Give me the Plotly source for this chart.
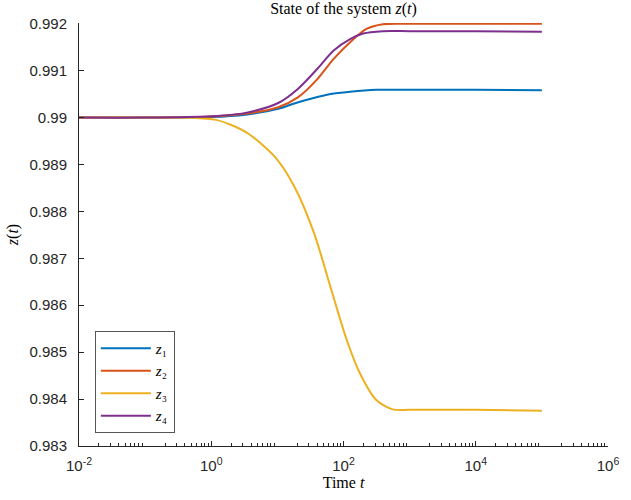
import plotly.graph_objects as go

# time samples (log scale) and the state trajectories
t1 = [0.01, 0.1, 1, 3.3, 10.3, 18, 32, 63.5, 126, 313, 1000, 1e4, 1e5]
z1 = [0.99, 0.99, 0.99001, 0.99006, 0.990185, 0.9903, 0.9904, 0.9905, 0.99055,
      0.99059, 0.99059, 0.99059, 0.99058]

t2 = [0.01, 0.1, 1, 3.3, 10.3, 20.4, 40.3, 71, 141, 222, 394, 1000, 1e4, 1e5]
z2 = [0.99, 0.99, 0.99002, 0.99008, 0.99022, 0.99043, 0.99082, 0.99125, 0.99167,
      0.99189, 0.99199, 0.992, 0.992, 0.992]

t3 = [0.01, 0.1, 0.5, 1.18, 2.1, 3.7, 9.2, 18.2, 36, 63.5, 112, 177, 313, 553,
      1000, 1e4, 1e5]
z3 = [0.99, 0.99, 0.989995, 0.98995, 0.98983, 0.98965, 0.98916, 0.98852, 0.98753,
      0.98639, 0.98526, 0.98455, 0.98398, 0.98378, 0.98377, 0.98377, 0.98375]

t4 = [0.01, 0.1, 1, 3.3, 10.3, 20.4, 40.3, 71, 126, 198, 394, 1000, 1e4, 1e5]
z4 = [0.99, 0.99, 0.99003, 0.9901, 0.99031, 0.99061, 0.99104, 0.99143, 0.99167,
      0.99179, 0.99184, 0.99184, 0.99184, 0.99183]

names = ["z₁", "z₂", "z₃", "z₄"]
colors = ["#0072BD", "#D95319", "#EDB120", "#7E2F8E"]

x_ticks = [1e-2, 1, 1e2, 1e4, 1e6]
x_labels = ["10<sup>-2</sup>", "10<sup>0</sup>", "10<sup>2</sup>", "10<sup>4</sup>", "10<sup>6</sup>"]
y_ticks = [0.983, 0.984, 0.985, 0.986, 0.987, 0.988, 0.989, 0.99, 0.991, 0.992]
y_labels = ["0.983", "0.984", "0.985", "0.986", "0.987", "0.988", "0.989", "0.99", "0.991", "0.992"]

SERIF = "Liberation Serif, DejaVu Serif, serif"
SANS = "Liberation Sans, Arial, sans-serif"
AXIS = "#262626"

fig = go.Figure()
for name, ts, vals, col in zip(names, [t1, t2, t3, t4], [z1, z2, z3, z4], colors):
    fig.add_trace(go.Scatter(
        x=ts, y=vals, mode="lines", name="<i>" + name[0] + "</i>" + name[1:],
        line={"color": col, "width": 2, "shape": "spline", "smoothing": 0.8},
    ))

minor_vals = [m * 10 ** e for e in range(-2, 6) for m in range(2, 10)]

fig.update_layout(
    width=631, height=500,
    margin={"l": 77, "r": 15, "t": 23, "b": 54},
    plot_bgcolor="white", paper_bgcolor="white",
    title={"text": "State of the system <i>z</i>(<i>t</i>)", "x": 0.5, "xref": "paper",
           "y": 0.995, "yanchor": "top", "font": {"family": SERIF, "size": 16, "color": "black"}},
    font={"family": SANS, "size": 15, "color": AXIS},
    legend={"x": 0.03, "y": 0.031, "xanchor": "left", "yanchor": "bottom",
            "bordercolor": "#555555", "borderwidth": 1, "bgcolor": "white",
            "itemwidth": 50, "tracegroupgap": 0,
            "font": {"family": SERIF, "size": 15, "color": "black"}},
    showlegend=True,
)
fig.update_xaxes(
    type="log", range=[-2, 6], tickvals=x_ticks, ticktext=x_labels,
    showline=True, linecolor=AXIS, linewidth=1, mirror=False,
    ticks="inside", ticklen=5, tickcolor=AXIS, showgrid=False, zeroline=False,
    ticklabelstandoff=6,
    minor={"tickvals": minor_vals, "ticks": "inside", "ticklen": 3, "tickcolor": AXIS, "showgrid": False},
    title={"text": "Time <i>t</i>", "font": {"family": SERIF, "size": 16, "color": "black"}, "standoff": 2},
)
fig.update_yaxes(
    range=[0.983, 0.992015], tickvals=y_ticks, ticktext=y_labels,
    showline=True, linecolor=AXIS, linewidth=1, mirror=False,
    ticks="inside", ticklen=5, tickcolor=AXIS, showgrid=False, zeroline=False,
    ticklabelstandoff=8,
    title={"text": "<i>z</i>(<i>t</i>)", "font": {"family": SERIF, "size": 16, "color": "black"}, "standoff": 6},
)

# drop the browser's default body margin so the figure sits at the page corner
fig.write_html("out.html", config={"displayModeBar": False},
               post_script="document.body.style.margin = '0';")
